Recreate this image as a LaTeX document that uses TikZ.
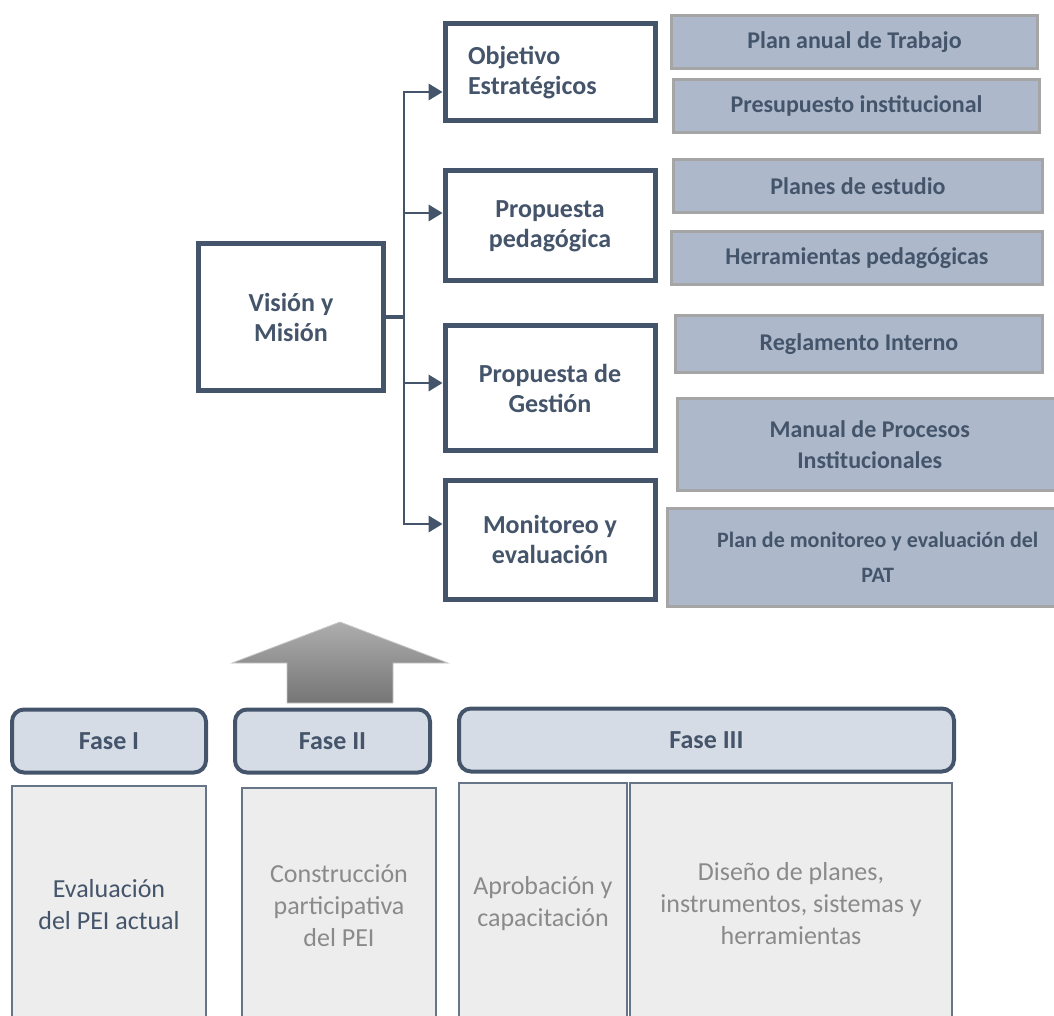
\documentclass[tikz,border=0pt]{standalone}
\usepackage{fontspec}
\setmainfont{Carlito}
\usepackage{tikz}
\usetikzlibrary{arrows.meta, calc, positioning}
\usepackage{xcolor}
\definecolor{pizarra}{HTML}{44546A}
\definecolor{azulgris}{HTML}{ADB9CA}
\definecolor{grisborde}{HTML}{A5A5A5}
\definecolor{fasefill}{HTML}{D6DCE5}
\definecolor{etapafill}{HTML}{EDEDED}
\definecolor{etapaborde}{HTML}{667588}
\definecolor{grisletra}{HTML}{8A8A8A}
\tikzstyle{conn} = [line width=1.1pt, draw=pizarra, -{Triangle[length=10.5pt,width=12.5pt]}]
\newdimen\px \px=0.75pt

\begin{document}
\begin{tikzpicture}[x=0.75pt, y=-0.75pt,
    caja/.style={draw=pizarra, line width=3.75pt, fill=white, text=pizarra, align=center, font=\fontsize{19.5}{22.5}\selectfont\bfseries, minimum width=210\px, inner sep=0pt},
    prod/.style={draw=grisborde, line width=2.25pt, fill=azulgris, text=pizarra, align=center, font=\fontsize{18}{23}\selectfont\bfseries, inner sep=0pt},
    fase/.style={draw=pizarra, line width=3pt, fill=fasefill, rounded corners=9pt, text=pizarra, font=\fontsize{19.5}{22}\selectfont\bfseries, minimum height=63\px, inner sep=0pt},
    etapa/.style={draw=etapaborde, line width=1.1pt, fill=etapafill, text=grisletra, align=center, font=\fontsize{19.5}{24}\selectfont, inner sep=0pt}
  ]
  \useasboundingbox (0,0) rectangle (1054,1016);

  % bloque superior
  \node[caja, minimum width=185\px, minimum height=147\px] (vm) at (291,317) {Visión y\\Misión};

  \node[caja, minimum height=97\px, align=left, text width=164\px, inner xsep=23\px] (obj) at (550,72.5) {Objetivo\\Estratégicos};
  \node[caja, minimum height=110\px] (ped) at (550,226) {Propuesta\\pedagógica};
  \node[caja, minimum height=125\px] (gest) at (550,388.5) {Propuesta de\\Gestión};
  \node[caja, minimum height=119\px] (mon) at (550,539.5) {Monitoreo y\\evaluación};

  \node[prod, minimum width=366\px, minimum height=53\px] (pat) at (854.5,42) {Plan anual de Trabajo};
  \node[prod, minimum width=366\px, minimum height=53\px] (pres) at (856.5,106) {Presupuesto institucional};
  \node[prod, minimum width=369\px, minimum height=53\px] (planes) at (858,186) {Planes de estudio};
  \node[prod, minimum width=371\px, minimum height=53\px] (herr) at (857,258) {Herramientas pedagógicas};
  \node[prod, minimum width=367\px, minimum height=57\px] (regl) at (859,344) {Reglamento Interno};
  \node[prod, minimum width=384.5\px, minimum height=92\px] (manual) at (869.75,444.5) {Manual de Procesos\\Institucionales};
  \node[prod, minimum width=420.5\px, minimum height=98\px, font=\fontsize{16.5}{26}\selectfont\bfseries] (pmon) at (877.75,557.5) {Plan de monitoreo y evaluación del\\PAT};

  \coordinate (tronco) at (404,317);
  \draw[conn] ($(vm.east)+(0,-1.2)$) -- ($(tronco)+(0,-1.2)$) |- ($(obj.west)+(0,19.5)$);
  \draw[conn] ($(vm.east)+(0,-1.2)$) -- ($(tronco)+(0,-1.2)$) |- ($(ped.west)+(0,-13)$);
  \draw[conn] ($(vm.east)+(0,1.2)$) -- ($(tronco)+(0,1.2)$) |- ($(gest.west)+(0,-5.5)$);
  \draw[conn] ($(vm.east)+(0,1.2)$) -- ($(tronco)+(0,1.2)$) |- ($(mon.west)+(0,-15.5)$);

  % flecha gris
  \shade[top color=black!32, bottom color=black!54, draw=black!22, line width=0.6pt]
    (340,622) -- (448,663) -- (393,663) -- (393,703) -- (287,703) -- (287,663) -- (232,663) -- cycle;

  % fases
  \node[fase, minimum width=194\px] (f1) at (109,741) {Fase I};
  \node[fase, minimum width=195\px] (f2) at (332.5,741) {Fase II};
  \node[fase, minimum width=495\px] (f3) at (706.5,740) {Fase III};

  \node[etapa, text=pizarra, minimum width=194\px, minimum height=238\px] (e1) at (109,905) {Evaluación\\del PEI actual};
  \node[etapa, minimum width=194\px, minimum height=236\px] (e2) at (339,906) {Construcción\\participativa\\del PEI};
  \node[etapa, minimum width=168\px, minimum height=241\px] (e3) at (543,903.5) {Aprobación y\\capacitación};
  \node[etapa, minimum width=322\px, minimum height=241\px] (e4) at (791,903.5) {Diseño de planes,\\instrumentos, sistemas y\\herramientas};

\end{tikzpicture}
\end{document}
